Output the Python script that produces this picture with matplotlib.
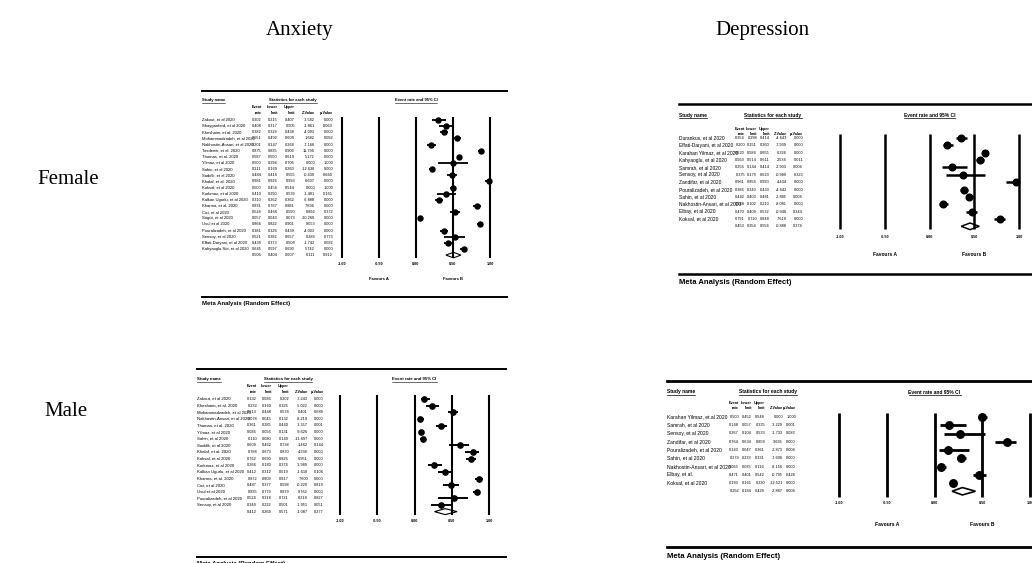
import matplotlib.pyplot as plt
from matplotlib.lines import Line2D
from matplotlib.transforms import blended_transform_factory

W, H = 1032, 563

# ---- Female / Anxiety ----
fa_studies = ["Zakout, et al 2020", "Shayganfard, et al 2020", "Kheshaim, et al. 2020",
              "Mohammadzadeh, et al 2020", "Nakhostin-Ansari, et al 2020", "Tasdemir, et al. 2020",
              "Thomas, et al. 2020", "Yilmaz, et al 2020", "Sahin, et al 2020", "Saddik, et al 2020",
              "Khalaf, et al. 2020", "Koksal, et al 2020", "Korkmaz, et al 2020",
              "Kalkan Ugurlu, et al 2020", "Kharma, et al. 2020", "Cici, et al 2020",
              "Sögüt, et al 2020", "Usul et al 2020", "Pouralizadeh, et al 2020",
              "Sensoy, et al 2020", "Effati-Daryani, et al 2020", "Kahyaoglu Süt, et al 2020"]
fa_rate = [0.302, 0.408, 0.382, 0.551, 0.201, 0.875, 0.587, 0.500, 0.211, 0.484, 0.981,
           0.500, 0.410, 0.310, 0.831, 0.528, 0.057, 0.866, 0.381, 0.521, 0.439, 0.645]
fa_lower = [0.215, 0.317, 0.329, 0.492, 0.147, 0.835, 0.550, 0.294, 0.169, 0.416, 0.926,
            0.456, 0.290, 0.262, 0.767, 0.466, 0.043, 0.822, 0.326, 0.382, 0.373, 0.597]
fa_upper = [0.407, 0.505, 0.438, 0.608, 0.268, 0.906, 0.619, 0.706, 0.260, 0.555, 0.993,
            0.544, 0.539, 0.362, 0.881, 0.590, 0.073, 0.901, 0.439, 0.657, 0.508, 0.690]
fa_z = [-3.582, -1.861, -4.093, 1.682, -7.166, 11.796, 5.172, 0.000, -12.636, -0.439, 6.607,
        0.000, -1.401, -6.888, 7.696, 0.892, -20.269, 9.053, -4.003, 0.289, -1.742, 5.742]
fa_p = [0.000, 0.063, 0.000, 0.092, 0.000, 0.000, 0.000, 1.000, 0.000, 0.660, 0.000,
        1.000, 0.161, 0.000, 0.000, 0.372, 0.000, 0.000, 0.000, 0.773, 0.082, 0.000]
fa_summary = [0.506, 0.404, 0.607, 0.111, 0.912]

# ---- Male / Anxiety ----
ma_studies = ["Zakout, et al 2020", "Kheshaim, et al. 2020", "Mohammadzadeh, et al 2020",
              "Nakhostin-Ansari, et al 2020", "Thomas, et al. 2020", "Yilmaz, et al 2020",
              "Sahin, et al 2020", "Saddik, et al 2020", "Khalaf, et al. 2020",
              "Koksal, et al 2020", "Korkmaz, et al 2020", "Kalkan Ugurlu, et al 2020",
              "Kharma, et al. 2020", "Cici, et al 2020", "Usul et al 2020",
              "Pouralizadeh, et al 2020", "Sensoy, et al 2020"]
ma_rate = [0.132, 0.232, 0.513, 0.078, 0.361, 0.086, 0.110, 0.609, 0.788, 0.762, 0.266,
           0.412, 0.872, 0.487, 0.835, 0.524, 0.349]
ma_lower = [0.086, 0.160, 0.448, 0.045, 0.285, 0.056, 0.080, 0.462, 0.673, 0.690, 0.180,
            0.312, 0.809, 0.377, 0.779, 0.318, 0.222]
ma_upper = [0.202, 0.326, 0.578, 0.132, 0.440, 0.131, 0.149, 0.738, 0.870, 0.826, 0.374,
            0.519, 0.917, 0.598, 0.879, 0.721, 0.501]
ma_z = [-7.243, -5.022, 0.401, -8.219, -3.357, -9.626, -11.697, 1.462, 4.338, 6.951,
        -3.989, -1.618, 7.600, -0.229, 8.762, 0.218, -1.951]
ma_p = [0.000, 0.000, 0.689, 0.000, 0.001, 0.000, 0.000, 0.144, 0.000, 0.000, 0.000,
        0.106, 0.000, 0.819, 0.000, 0.827, 0.051]
ma_summary = [0.412, 0.269, 0.571, -1.087, 0.277]

# ---- Female / Depression ----
fd_studies = ["Durankus, et al 2020", "Effati-Daryani, et al 2020", "Karahan Yilmaz, et al 2020",
              "Kahyaoglu, et al 2020", "Samrah, et al 2020", "Sensoy, et al 2020",
              "Zandifar, et al 2020", "Pouralizadeh, et al 2020", "Sahin, et al 2020",
              "Nakhostin-Ansari, et al 2020", "Elbay, et al 2020", "Koksal, et al 2020"]
fd_rate = [0.354, 0.200, 0.620, 0.563, 0.256, 0.375, 0.961, 0.386, 0.442, 0.148, 0.470, 0.791]
fd_lower = [0.298, 0.151, 0.584, 0.514, 0.144, 0.179, 0.856, 0.340, 0.403, 0.102, 0.409, 0.720]
fd_upper = [0.414, 0.260, 0.655, 0.611, 0.414, 0.623, 0.990, 0.433, 0.481, 0.210, 0.532, 0.848]
fd_z = [-4.643, -7.939, 6.326, 2.534, -2.903, -0.989, 4.434, -4.642, -2.885, -8.081,
        -0.946, 7.619]
fd_p = [0.000, 0.000, 0.000, 0.011, 0.004, 0.323, 0.000, 0.000, 0.004, 0.000, 0.344, 0.000]
fd_summary = [0.453, 0.354, 0.556, -0.888, 0.374]

# ---- Male / Depression ----
md_studies = ["Karahan Yilmaz, et.al 2020", "Samrah, et al 2020", "Sensoy, et al 2020",
              "Zandifar, et al 2020", "Pouralizadeh, et al 2020", "Sahin, et al 2020",
              "Nakhostin-Ansari, et al 2020", "Elbay, et al.", "Koksal, et al 2020"]
md_rate = [0.500, 0.148, 0.267, 0.764, 0.143, 0.279, 0.065, 0.471, 0.193]
md_lower = [0.452, 0.057, 0.104, 0.634, 0.047, 0.233, 0.035, 0.401, 0.161]
md_upper = [0.548, 0.335, 0.533, 0.858, 0.361, 0.331, 0.116, 0.542, 0.230]
md_z = [0.000, -3.229, -1.733, 3.695, -2.873, -7.606, -8.156, -0.795, -12.521]
md_p = [1.000, 0.001, 0.083, 0.000, 0.004, 0.000, 0.000, 0.426, 0.000]
md_summary = [0.292, 0.184, 0.429, -2.887, 0.004]

axis_ticks = [-1.0, -0.5, 0.0, 0.5, 1.0]
tick_labels = ["-1.00", "-0.50", "0.00", "0.50", "1.00"]

plt.rcParams['font.family'] = ['Liberation Sans', 'DejaVu Sans']

fig = plt.figure(figsize=(W / 100, H / 100), dpi=100)


def fx(px):
    return px / W


def fy(py):
    return 1 - py / H


def rule(x0, x1, y, lw):
    fig.add_artist(Line2D([fx(x0), fx(x1)], [fy(y), fy(y)], color='black', lw=lw))


underlines = []


def draw_panel(studies, rate, lower, upper, z, p, summary, g):
    n = len(studies)
    dy = g['dy']
    top = g['row0'] - dy / 2
    bot = g['row0'] + n * dy + dy / 2
    ax = fig.add_axes([fx(g['xm1']), fy(bot), fx(g['xp1'] - g['xm1']), (bot - top) / H])
    ax.set_xlim(-1, 1)
    ax.set_ylim(n + 0.5, -0.5)
    ax.axis('off')

    def ry(py):
        return (py - g['row0']) / dy

    fs, nfs = g['fs'], g['nfs']
    ax.vlines(axis_ticks, ry(g['vtop']), ry(g['vbot']), color='black', lw=g['vlw'],
              clip_on=False)
    for t, lab in zip(axis_ticks, tick_labels):
        ax.text(t, ry(g['tick_y']), lab, ha='center', va='center', fontsize=nfs * 0.95,
                fontweight='bold', clip_on=False)
    rows = list(range(n))
    ax.hlines(rows, lower, upper, color='black', lw=g['clw'], clip_on=False)
    ax.plot(rate, rows, 'o', color='black', ms=g['ms'], clip_on=False)
    est, lo, hi = summary[0], summary[1], summary[2]
    h = 0.45
    ax.fill([lo, est, hi, est, lo], [n, n - h, n, n + h, n], facecolor='white',
            edgecolor='black', lw=g['clw'] * 0.6, clip_on=False)

    trans = blended_transform_factory(fig.transFigure, ax.transData)
    for i, name in enumerate(studies):
        ax.text(fx(g['left']), i, name, transform=trans, ha='left', va='center', fontsize=fs)
        vals = [rate[i], lower[i], upper[i], z[i], p[i]]
        for cx, v in zip(g['cols'], vals):
            ax.text(fx(cx), i, f"{v:.3f}", transform=trans, ha='right', va='center',
                    fontsize=nfs)
    for cx, v in zip(g['cols'], summary):
        ax.text(fx(cx), n, f"{v:.3f}", transform=trans, ha='right', va='center', fontsize=nfs)

    # column headers
    heads1 = ["Event", "Lower", "Upper", "", ""]
    heads2 = ["rate", "limit", "limit", "Z-Value", "p-Value"]
    for cx, a, b in zip(g['cols'], heads1, heads2):
        ax.text(fx(cx), ry(g['h1']), a, transform=trans, ha='right', va='center',
                fontsize=nfs * 0.95, fontweight='bold')
        ax.text(fx(cx), ry(g['h2']), b, transform=trans, ha='right', va='center',
                fontsize=nfs * 0.95, fontweight='bold')
    t1 = ax.text(fx(g['left']), ry(g['head_y']), "Study name", transform=trans, ha='left',
                 va='center', fontsize=fs, fontweight='bold')
    t2 = ax.text(fx(g['stats_x']), ry(g['head_y']), "Statistics for each study",
                 transform=trans, ha='center', va='center', fontsize=fs, fontweight='bold')
    t3 = ax.text(0, ry(g['head_y']), "Event rate and 95% CI", ha='center', va='center',
                 fontsize=fs, fontweight='bold', clip_on=False)
    underlines.extend([(t1, g['ulw']), (t2, g['ulw']), (t3, g['ulw'])])

    if g['fav_y'] is not None:
        ax.text(-0.5, ry(g['fav_y']), "Favours A", ha='center', va='center', fontsize=fs,
                fontweight='bold', clip_on=False)
        ax.text(0.5, ry(g['fav_y']), "Favours B", ha='center', va='center', fontsize=fs,
                fontweight='bold', clip_on=False)

    rule(g['left'], g['right'], g['top_rule'], g['rlw'])
    rule(g['left'], g['right'], g['bot_rule'], g['rlw'])
    fig.text(fx(g['left']), fy(g['meta_y']), "Meta Analysis (Random Effect)", ha='left',
             va='center', fontsize=g['meta_fs'], fontweight='bold')


fa_geo = dict(left=202, right=507, top_rule=91, head_y=100, h1=107, h2=113, row0=120,
              dy=6.14, xm1=342, xp1=490, vtop=117, vbot=258, tick_y=264, fav_y=279,
              bot_rule=297, meta_y=303, cols=[262, 278, 295, 315, 333], stats_x=293,
              fs=3.0, nfs=2.8, meta_fs=4.3, ms=3.6, clw=1.3, vlw=1.5, rlw=1.4, ulw=0.4)
ma_geo = dict(left=197, right=506, top_rule=369, head_y=379, h1=386, h2=392, row0=399,
              dy=6.625, xm1=340, xp1=489, vtop=395, vbot=515, tick_y=521, fav_y=None,
              bot_rule=557, meta_y=563, cols=[257, 272, 289, 308, 324], stats_x=288,
              fs=3.1, nfs=2.8, meta_fs=4.3, ms=3.8, clw=1.4, vlw=1.5, rlw=1.4, ulw=0.4)
fd_geo = dict(left=679, right=1032, top_rule=104, head_y=115, h1=129, h2=134, row0=138,
              dy=7.36, xm1=840, xp1=1019, vtop=134, vbot=229, tick_y=237, fav_y=254,
              bot_rule=274, meta_y=283, cols=[745, 757, 770, 787, 803], stats_x=773,
              fs=3.5, nfs=2.8, meta_fs=5.5, ms=4.8, clw=1.8, vlw=1.8, rlw=1.8, ulw=0.5)
md_geo = dict(left=667, right=1032, top_rule=381, head_y=392, h1=403, h2=408, row0=417,
              dy=8.25, xm1=839, xp1=1030, vtop=413, vbot=497, tick_y=503, fav_y=524,
              bot_rule=547, meta_y=557, cols=[739, 752, 765, 783, 796], stats_x=768,
              fs=3.6, nfs=2.8, meta_fs=5.6, ms=5.4, clw=2.0, vlw=2.0, rlw=2.0, ulw=0.5)

draw_panel(fa_studies, fa_rate, fa_lower, fa_upper, fa_z, fa_p, fa_summary, fa_geo)
draw_panel(ma_studies, ma_rate, ma_lower, ma_upper, ma_z, ma_p, ma_summary, ma_geo)
draw_panel(fd_studies, fd_rate, fd_lower, fd_upper, fd_z, fd_p, fd_summary, fd_geo)
draw_panel(md_studies, md_rate, md_lower, md_upper, md_z, md_p, md_summary, md_geo)

# underline the panel headers
renderer = fig.canvas.get_renderer()
for t, lw in underlines:
    bb = t.get_window_extent(renderer)
    yb = bb.y0 - 0.5
    fig.add_artist(Line2D([bb.x0 / W, bb.x1 / W], [yb / H, yb / H], color='black', lw=lw))

serif = ['Liberation Serif', 'DejaVu Serif']
fig.text(fx(300), fy(30), "Anxiety", ha='center', va='center', fontsize=15, family=serif)
fig.text(fx(762), fy(30), "Depression", ha='center', va='center', fontsize=15, family=serif)
fig.text(fx(68), fy(180), "Female", ha='center', va='center', fontsize=15, family=serif)
fig.text(fx(66), fy(412), "Male", ha='center', va='center', fontsize=15, family=serif)

fig.savefig("out.png", dpi=100)
